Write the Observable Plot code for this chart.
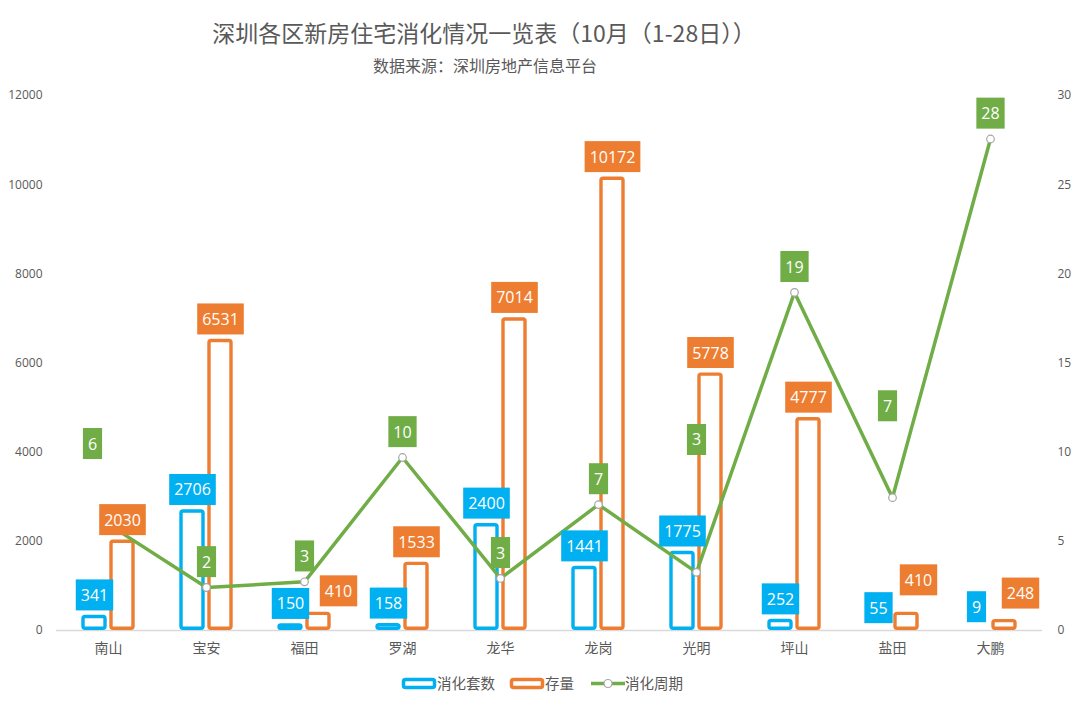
<!DOCTYPE html>
<html>
<head>
<meta charset="utf-8">
<script src="https://cdn.jsdelivr.net/npm/d3@7"></script>
<script src="https://cdn.jsdelivr.net/npm/@observablehq/plot@0.6"></script>
<style>
  html, body { margin: 0; padding: 0; background: #fff; }
  body { width: 1080px; height: 704px; position: relative; overflow: hidden;
         font-family: "Open Sans", "Noto Sans CJK SC", sans-serif; }
  #title { position: absolute; left: 0; width: 968px; top: 16px; text-align: center;
           font-family: "Noto Sans CJK SC", sans-serif; font-size: 23px; line-height: 32px; color: #595959; }
  #subtitle { position: absolute; left: 0; width: 970px; top: 52px; text-align: center;
           font-family: "Noto Sans CJK SC", sans-serif; font-size: 16px; line-height: 26px; color: #595959; }
  #chart { position: absolute; left: 0; top: 80px; }
  .leg { position: absolute; top: 672px; font-family: "Noto Sans CJK SC", sans-serif; font-size: 14.5px;
         line-height: 22px; color: #595959; white-space: nowrap; }
  .legsvg { position: absolute; top: 676px; }
</style>
</head>
<body>
<div id="title">深圳各区新房住宅消化情况一览表（10月（1-28日））</div>
<div id="subtitle">数据来源：深圳房地产信息平台</div>
<div id="chart"></div>

<svg class="legsvg" style="left:400px" width="38" height="15"><rect x="3.5" y="3.5" width="31" height="8" rx="2" fill="#fff" stroke="#00b0f0" stroke-width="3.5"/></svg>
<div class="leg" style="left:437px">消化套数</div>
<svg class="legsvg" style="left:508px" width="38" height="15"><rect x="3.5" y="3.5" width="31" height="8" rx="2" fill="#fff" stroke="#ed7d31" stroke-width="3.5"/></svg>
<div class="leg" style="left:545px">存量</div>
<svg class="legsvg" style="left:590px" width="36" height="15"><line x1="1" y1="7.5" x2="35" y2="7.5" stroke="#70ad47" stroke-width="3.5"/><circle cx="18" cy="7.5" r="4" fill="#fff" stroke="#a6a6a6" stroke-width="1.2"/></svg>
<div class="leg" style="left:625px">消化周期</div>

<script>
// ---- data ----
const districts = ["南山", "宝安", "福田", "罗湖", "龙华", "龙岗", "光明", "坪山", "盐田", "大鹏"];
const sold      = [341, 2706, 150, 158, 2400, 1441, 1775, 252, 55, 9];          // 消化套数
const stock     = [2030, 6531, 410, 1533, 7014, 10172, 5778, 4777, 410, 248];   // 存量
const cycle     = [5.95, 2.41, 2.73, 9.70, 2.92, 7.06, 3.26, 18.96, 7.45, 27.56]; // 消化周期 (right axis)
const cycleLabels = ["6", "2", "3", "10", "3", "7", "3", "19", "7", "28"];
const leftTicks  = [0, 2000, 4000, 6000, 8000, 10000, 12000];
const rightTicks = [0, 5, 10, 15, 20, 25, 30];

// ---- layout helpers (pixel nudges for labels, as in the reference) ----
const leftMax = 12000, rightMax = 30, ratio = leftMax / rightMax;
const cycleNudge = { "南山": [-16, -55], "光明": [0, -107], "盐田": [-5, -66] };
const stockNudge = { "福田": [20, -1], "盐田": [12, -12], "大鹏": [16, -6] };
const soldNudge  = { "大鹏": [0, -3] };

const rows = districts.map((d, i) => ({
  district: d, sold: sold[i], stock: stock[i], cycle: cycle[i],
  cycleY: cycle[i] * ratio, label: cycleLabels[i]
}));

const BLUE = "#00b0f0", ORANGE = "#ed7d31", GREEN = "#70ad47";
const OFF = 14;

function nudgedText(data, nudge, base, opts) {
  const marks = [];
  const plain = data.filter(d => !(d.district in nudge));
  marks.push(Plot.text(plain, {...opts, dx: base[0], dy: base[1]}));
  for (const d of data.filter(d => d.district in nudge)) {
    const [nx, ny] = nudge[d.district];
    marks.push(Plot.text([d], {...opts, dx: base[0] + nx, dy: base[1] + ny}));
  }
  return marks;
}

const labelFont = {fontSize: 16, fill: "white", lineAnchor: "middle", textAnchor: "middle"};

const plot = Plot.plot({
  width: 1080, height: 590,
  marginTop: 15, marginBottom: 40, marginLeft: 56, marginRight: 38,
  style: {fontFamily: '"Open Sans","Noto Sans CJK SC",sans-serif', background: "transparent", color: "#595959"},
  x: {domain: districts, paddingInner: 0.773, paddingOuter: 0.3865},
  y: {domain: [0, leftMax]},
  marks: [
    Plot.axisY({ticks: leftTicks, anchor: "left", tickSize: 0, tickPadding: 14, fontSize: 12, fill: "#595959",
                label: null, tickFormat: d => String(d)}),
    Plot.axisY({ticks: rightTicks.map(t => t * ratio), anchor: "right", tickSize: 0, tickPadding: 15, fontSize: 12,
                fill: "#595959", label: null, tickFormat: d => String(d / ratio)}),
    Plot.axisX({tickSize: 0, tickPadding: 13, fontSize: 14, fill: "#595959", label: null,
                fontFamily: '"Noto Sans CJK SC",sans-serif'}),
    Plot.ruleY([0], {stroke: "#d9d9d9", strokeWidth: 1.5}),
    Plot.barY(rows, {x: "district", y: "sold", dx: -OFF, fill: "white", stroke: BLUE, strokeWidth: 3.4,
                     insetTop: 1.7, insetBottom: 1.7, rx: 2}),
    Plot.barY(rows, {x: "district", y: "stock", dx: OFF, fill: "white", stroke: ORANGE, strokeWidth: 3.4,
                     insetTop: 1.7, insetBottom: 1.7, rx: 2}),
    Plot.lineY(rows, {x: "district", y: "cycleY", stroke: GREEN, strokeWidth: 3.5, strokeLinejoin: "round"}),
    Plot.dot(rows, {x: "district", y: "cycleY", r: 3.8, fill: "white", stroke: "#a6a6a6", strokeWidth: 1.2}),
    ...nudgedText(rows, soldNudge, [-OFF, -19.5], {x: "district", y: "sold", text: d => String(d.sold), ...labelFont, ariaDescription: "box " + BLUE}),
    ...nudgedText(rows, stockNudge, [OFF, -19.5], {x: "district", y: "stock", text: d => String(d.stock), ...labelFont, ariaDescription: "box " + ORANGE}),
    ...nudgedText(rows, cycleNudge, [0, -25], {x: "district", y: "cycleY", text: "label", ...labelFont, ariaDescription: "box " + GREEN})
  ]
});

document.getElementById("chart").appendChild(plot);

// draw filled boxes behind the data labels, sized from each rendered text
document.querySelectorAll('g[aria-description^="box"]').forEach(g => {
  const color = g.getAttribute("aria-description").split(" ")[1];
  g.querySelectorAll("text").forEach(t => {
    const b = t.getBBox();
    const r = document.createElementNS("http://www.w3.org/2000/svg", "rect");
    r.setAttribute("x", b.x - 5);
    r.setAttribute("width", b.width + 10);
    r.setAttribute("y", b.y + b.height / 2 - 15.5);
    r.setAttribute("height", 31);
    r.setAttribute("fill", color);
    r.setAttribute("stroke", "none");
    const tr = t.getAttribute("transform");
    if (tr) r.setAttribute("transform", tr);
    t.parentNode.insertBefore(r, t);
  });
});
</script>
</body>
</html>
